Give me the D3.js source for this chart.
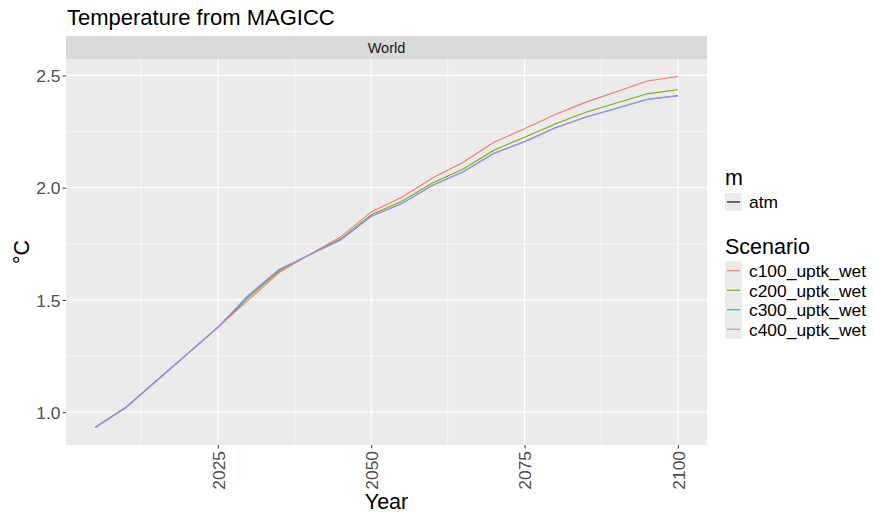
<!DOCTYPE html>
<html>
<head>
<meta charset="utf-8">
<script src="https://cdn.jsdelivr.net/npm/d3@7"></script>
<style>
  html, body { margin: 0; padding: 0; background: #ffffff; }
  svg { display: block; font-family: "Liberation Sans", Arial, Helvetica, sans-serif; }
</style>
</head>
<body>
<svg id="chart" width="874" height="514"></svg>
<script>
// Global mean temperature (°C) per scenario, 5-year steps
const years = [2005, 2010, 2015, 2020, 2025, 2030, 2035, 2040, 2045, 2050,
               2055, 2060, 2065, 2070, 2075, 2080, 2085, 2090, 2095, 2100];
const scenarios = ["c100_uptk_wet", "c200_uptk_wet", "c300_uptk_wet", "c400_uptk_wet"];
const c100 = [0.932, 1.021, 1.140, 1.259, 1.378, 1.500, 1.622, 1.703, 1.780, 1.892,
              1.957, 2.043, 2.113, 2.202, 2.262, 2.326, 2.381, 2.427, 2.475, 2.495];
const c200 = [0.932, 1.021, 1.140, 1.259, 1.378, 1.512, 1.630, 1.702, 1.771, 1.879,
              1.940, 2.021, 2.083, 2.167, 2.225, 2.284, 2.336, 2.377, 2.418, 2.436];
const c300 = [0.932, 1.021, 1.140, 1.259, 1.378, 1.519, 1.635, 1.701, 1.768, 1.873,
              1.930, 2.011, 2.071, 2.153, 2.206, 2.267, 2.315, 2.354, 2.394, 2.410];
const c400 = [0.932, 1.021, 1.140, 1.259, 1.378, 1.522, 1.637, 1.701, 1.766, 1.872,
              1.929, 2.010, 2.070, 2.152, 2.204, 2.266, 2.314, 2.353, 2.393, 2.409];
const seriesValues = [c100, c200, c300, c400];
const colors = ["#F8766D", "#7CAE00", "#00BFC4", "#C77CFF"];
const xTicks = [2025, 2050, 2075, 2100];
const xMinor = [2012.5, 2037.5, 2062.5, 2087.5];
const yTicks = [1.0, 1.5, 2.0, 2.5];
const yMinor = [1.25, 1.75, 2.25];

const svg = d3.select("#chart");
const panel = { left: 66, right: 707, top: 59, bottom: 445 };

// ggplot-style 5% expansion of the data range
const xExt = d3.extent(years);
const xPad = (xExt[1] - xExt[0]) * 0.05;
const allVals = seriesValues.flat();
const yExt = d3.extent(allVals);
const yPad = (yExt[1] - yExt[0]) * 0.05;

const x = d3.scaleLinear().domain([xExt[0] - xPad, xExt[1] + xPad]).range([panel.left, panel.right]);
const y = d3.scaleLinear().domain([yExt[0] - yPad, yExt[1] + yPad]).range([panel.bottom, panel.top]);

// Title
svg.append("text").attr("x", 67).attr("y", 25)
  .attr("font-size", 22).attr("fill", "#000").text("Temperature from MAGICC");

// Facet strip
svg.append("rect").attr("x", panel.left).attr("y", 36)
  .attr("width", panel.right - panel.left).attr("height", panel.top - 36).attr("fill", "#d9d9d9");
svg.append("text").attr("x", (panel.left + panel.right) / 2).attr("y", 47.5).attr("dy", "0.36em")
  .attr("text-anchor", "middle").attr("font-size", 14.5).attr("fill", "#1a1a1a").text("World");

// Panel background
svg.append("rect").attr("x", panel.left).attr("y", panel.top)
  .attr("width", panel.right - panel.left).attr("height", panel.bottom - panel.top).attr("fill", "#ebebeb");

const grid = svg.append("g");
grid.selectAll(".xm").data(xMinor).join("line")
  .attr("x1", d => x(d)).attr("x2", d => x(d)).attr("y1", panel.top).attr("y2", panel.bottom)
  .attr("stroke", "#fff").attr("stroke-width", 0.6);
grid.selectAll(".ym").data(yMinor).join("line")
  .attr("y1", d => y(d)).attr("y2", d => y(d)).attr("x1", panel.left).attr("x2", panel.right)
  .attr("stroke", "#fff").attr("stroke-width", 0.6);
grid.selectAll(".xM").data(xTicks).join("line")
  .attr("x1", d => x(d)).attr("x2", d => x(d)).attr("y1", panel.top).attr("y2", panel.bottom)
  .attr("stroke", "#fff").attr("stroke-width", 1.2);
grid.selectAll(".yM").data(yTicks).join("line")
  .attr("y1", d => y(d)).attr("y2", d => y(d)).attr("x1", panel.left).attr("x2", panel.right)
  .attr("stroke", "#fff").attr("stroke-width", 1.2);

// Series lines
const line = d3.line().x((d, i) => x(years[i])).y(d => y(d));
svg.append("g").selectAll("path").data(seriesValues).join("path")
  .attr("d", d => line(d)).attr("fill", "none")
  .attr("stroke", (d, i) => colors[i]).attr("stroke-width", 1.1);

// Axes
const xAxis = d3.axisBottom(x).tickValues(xTicks).tickFormat(d3.format("d")).tickSize(3.5).tickPadding(2);
const gx = svg.append("g").attr("transform", `translate(0,${panel.bottom})`).call(xAxis);
gx.select(".domain").remove();
gx.selectAll(".tick line").attr("stroke", "#333").attr("stroke-width", 1);
gx.selectAll(".tick text")
  .attr("font-size", 17.4).attr("fill", "#4d4d4d")
  .attr("transform", "rotate(-90)")
  .attr("text-anchor", "end")
  .attr("x", -6).attr("y", 0).attr("dy", "0.36em");

const yAxis = d3.axisLeft(y).tickValues(yTicks).tickFormat(d3.format(".1f")).tickSize(3.5).tickPadding(2);
const gy = svg.append("g").attr("transform", `translate(${panel.left},0)`).call(yAxis);
gy.select(".domain").remove();
gy.selectAll(".tick line").attr("stroke", "#333").attr("stroke-width", 1);
gy.selectAll(".tick text").attr("font-size", 17.4).attr("fill", "#4d4d4d").attr("dy", "0.36em");

// Axis titles
svg.append("text").attr("x", (panel.left + panel.right) / 2).attr("y", 509)
  .attr("text-anchor", "middle").attr("font-size", 21.5).attr("fill", "#000").text("Year");
svg.append("text").attr("transform", `translate(29,${(panel.top + panel.bottom) / 2}) rotate(-90)`)
  .attr("text-anchor", "middle").attr("font-size", 21.5).attr("fill", "#000").text("°C");

// Legends
const lx = 725;
const leg = svg.append("g");
leg.append("text").attr("x", lx).attr("y", 185).attr("font-size", 21.5).attr("fill", "#000").text("m");
leg.append("rect").attr("x", lx).attr("y", 193).attr("width", 17).attr("height", 18).attr("fill", "#ebebeb");
leg.append("line").attr("x1", lx + 2).attr("x2", lx + 15).attr("y1", 202).attr("y2", 202)
  .attr("stroke", "#000").attr("stroke-width", 1.1);
leg.append("text").attr("x", lx + 24).attr("y", 202).attr("dy", "0.36em")
  .attr("font-size", 17.4).attr("fill", "#000").text("atm");

leg.append("text").attr("x", lx).attr("y", 254).attr("font-size", 21.5).attr("fill", "#000").text("Scenario");
const keyH = 19.5, keyTop = 261;
leg.append("rect").attr("x", lx).attr("y", keyTop).attr("width", 17)
  .attr("height", keyH * scenarios.length).attr("fill", "#ebebeb");
const items = leg.selectAll(".item").data(scenarios).join("g")
  .attr("transform", (d, i) => `translate(${lx},${keyTop + keyH * i + keyH / 2})`);
items.append("line").attr("x1", 2).attr("x2", 15).attr("y1", 0).attr("y2", 0)
  .attr("stroke", (d, i) => colors[i]).attr("stroke-width", 1.1);
items.append("text").attr("x", 24).attr("y", 0).attr("dy", "0.36em")
  .attr("font-size", 17.4).attr("fill", "#000").text(d => d);
</script>
</body>
</html>
